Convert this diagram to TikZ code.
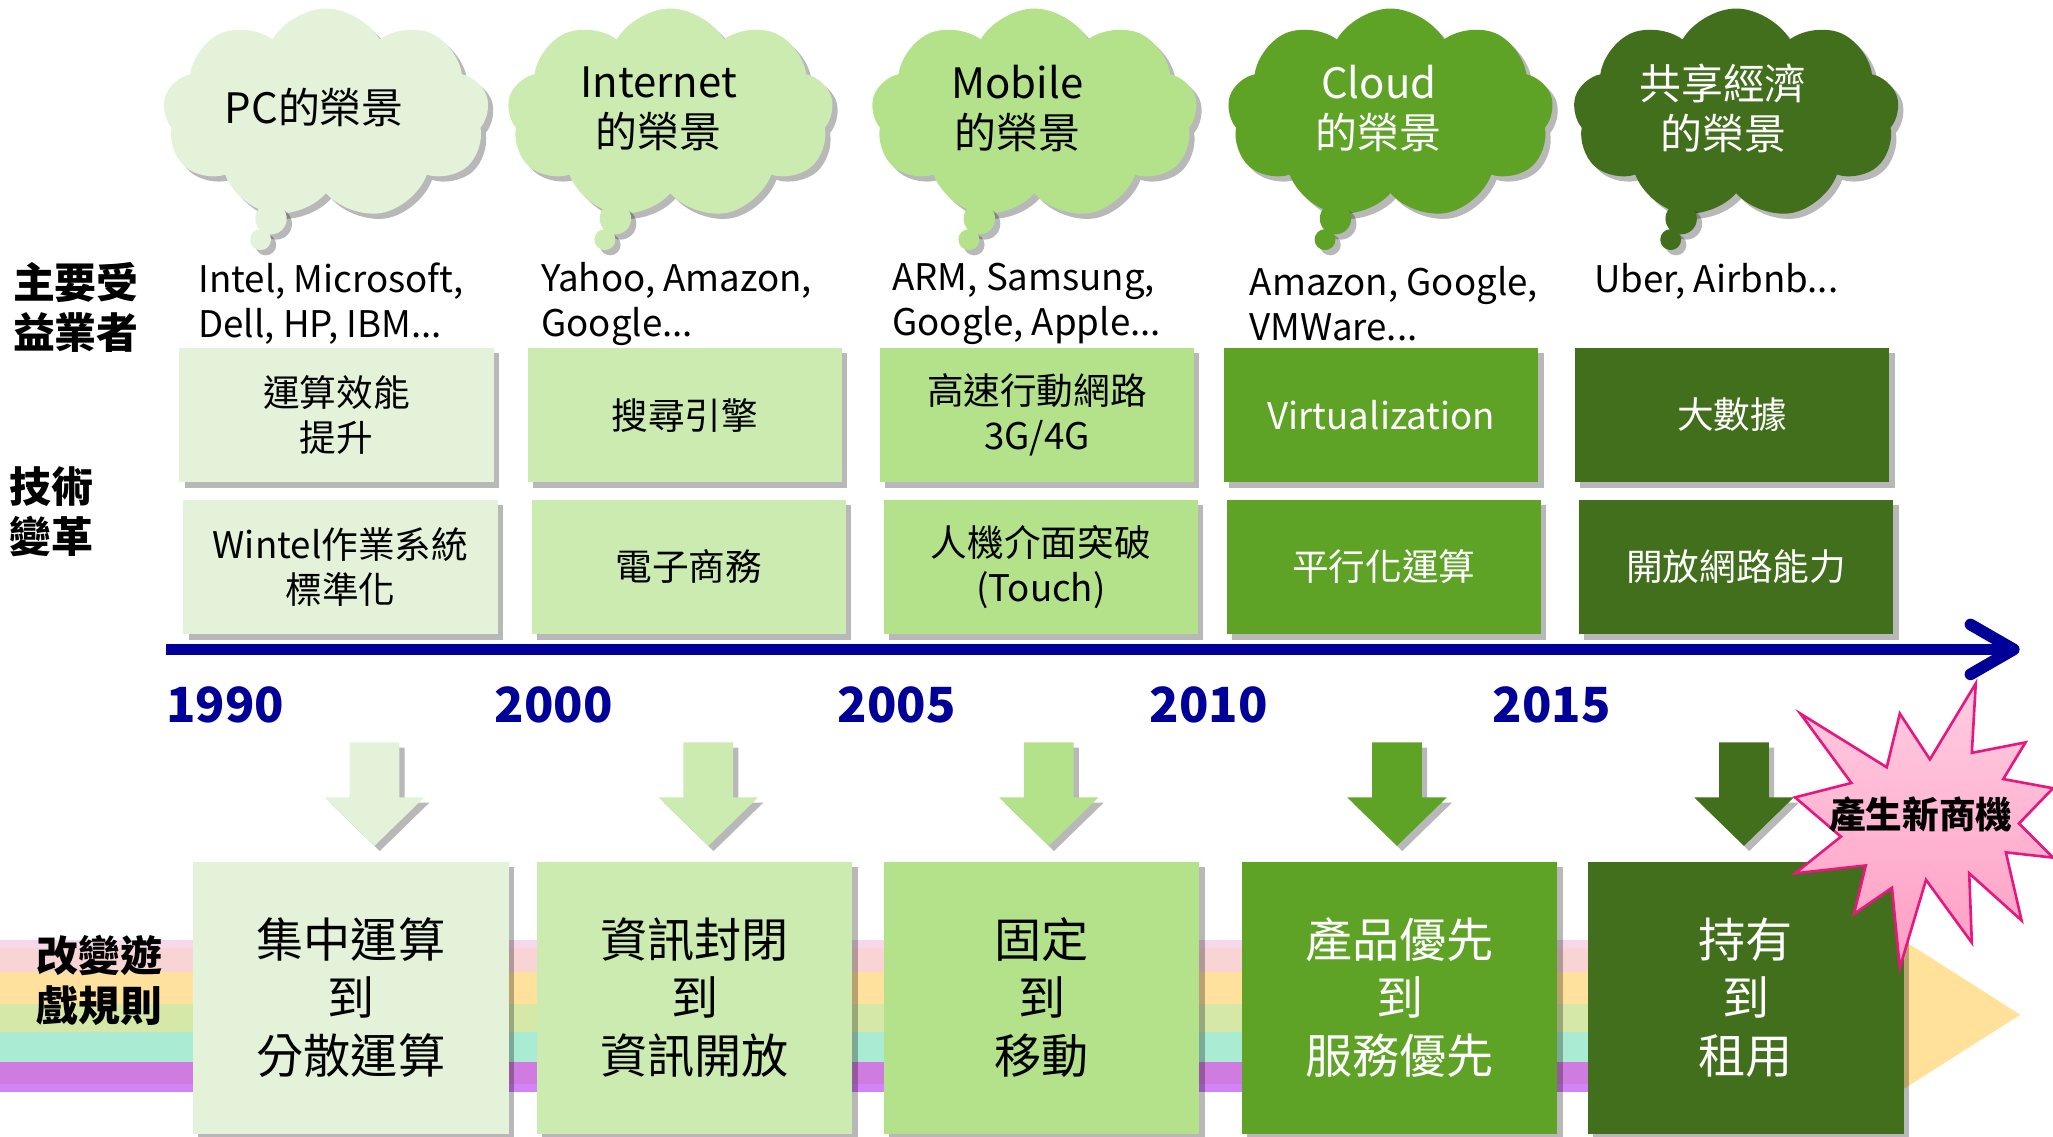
\documentclass[tikz,border=0pt]{standalone}
\usepackage{fontspec}
\setmainfont{Noto Sans CJK TC}
\usetikzlibrary{shapes.symbols,shadows}
\definecolor{gA}{HTML}{E3F2D9}
\definecolor{gB}{HTML}{CBEBB0}
\definecolor{gC}{HTML}{B3E28A}
\definecolor{gD}{HTML}{5EA226}
\definecolor{gE}{HTML}{416F1C}
\definecolor{tblue}{HTML}{000099}
\definecolor{rb1}{HTML}{F6D8EA}
\definecolor{rb2}{HTML}{F8D4D4}
\definecolor{rb3}{HTML}{FEE19C}
\definecolor{rb4}{HTML}{D6E8A8}
\definecolor{rb5}{HTML}{AAEBD3}
\definecolor{rb6}{HTML}{D07BE0}
\definecolor{rb7}{HTML}{D482F7}
\definecolor{yarrow}{HTML}{FFE199}
\definecolor{starline}{HTML}{E8177F}
\definecolor{startop}{HTML}{FFCCE0}
\definecolor{starbot}{HTML}{FF9EC4}
\begin{document}
\begin{tikzpicture}[x=1pt,y=-1pt,
  softshadow/.style={drop shadow={shadow xshift=4pt,shadow yshift=-4pt,opacity=0.28,fill=black}},
  cloudbox/.style={cloud,cloud puffs=9,cloud puff arc=120,cloud ignores aspect,
     minimum width=249pt,minimum height=161pt,inner sep=0pt,softshadow},
  tailbig/.style={circle,minimum size=24pt,inner sep=0pt},
  tailsmall/.style={circle,minimum size=16pt,inner sep=0pt},
  cloudtext/.style={align=center,font=\fontsize{32}{38}\selectfont},
  firm/.style={anchor=west,align=left,font=\fontsize{28}{34}\selectfont},
  techbox/.style={minimum width=240pt,minimum height=103pt,inner sep=0pt,align=center,
     font=\fontsize{28}{34}\selectfont,softshadow},
  rulebox/.style={minimum width=241pt,minimum height=208pt,inner sep=0pt,align=center,
     font=\fontsize{36}{44.5}\selectfont,softshadow},
  yearlbl/.style={font=\bfseries\fontsize{37}{37}\selectfont,text=tblue},
  sidelbl/.style={font=\bfseries\fontsize{32}{38}\selectfont,align=center},
  startext/.style={font=\bfseries\fontsize{28}{28}\selectfont}
]
\useasboundingbox (0,0) rectangle (1568,868);

% rainbow band
\fill[rb1] (0,718) rectangle (1450,724);
\fill[rb2] (0,724) rectangle (1450,742);
\fill[rb3] (0,742) rectangle (1450,767);
\fill[rb4] (0,767) rectangle (1450,788);
\fill[rb5] (0,788) rectangle (1450,811);
\fill[rb6] (0,811) rectangle (1450,828);
\fill[rb7] (0,828) rectangle (1450,834);
\fill[yarrow] (1400,684) -- (1543,775) -- (1400,866) -- cycle;

% clouds
\node[cloudbox,fill=gA] (cl1) at (249,87) {};
\node[cloudbox,fill=gB] (cl2) at (512,87) {};
\node[cloudbox,fill=gC] (cl3) at (790,87) {};
\node[cloudbox,fill=gD] (cl4) at (1062,87) {};
\node[cloudbox,fill=gE] (cl5) at (1326,87) {};
\foreach \i/\x/\c in {1/249/gA,2/512/gB,3/790/gC,4/1062/gD,5/1326/gE}{
  \node[tailbig,fill=\c,softshadow] (tb\i) at (\x-42,167) {};
  \node[tailsmall,fill=\c,softshadow] (ts\i) at (\x-50,183) {};
}
\node[cloudtext] (ct1) at (240,82) {PC的榮景};
\node[cloudtext] (ct2) at (503,83) {Internet\\的榮景};
\node[cloudtext] (ct3) at (777,83) {Mobile\\的榮景};
\node[cloudtext,text=white] (ct4) at (1053,83) {Cloud\\的榮景};
\node[cloudtext,text=white] (ct5) at (1316,83) {共享經濟\\的榮景};

% side labels
\node[sidelbl] (lab1) at (58,235) {主要受\\益業者};
\node[sidelbl] (lab2) at (39,391) {技術\\變革};
\node[sidelbl] (lab3) at (76,749) {改變遊\\戲規則};

% companies
\node[firm] (f1) at (148,232) {Intel, Microsoft,\\Dell, HP, IBM...};
\node[firm] (f2) at (410,232) {Yahoo, Amazon,\\Google...};
\node[firm] (f3) at (678,232) {ARM, Samsung,\\Google, Apple...};
\node[firm] (f4) at (951,232) {Amazon, Google,\\VMWare...};
\node[firm] (f5) at (1214,215) {Uber, Airbnb...};

% tech row 1
\node[techbox,fill=gA] (ta1) at (257,317) {運算效能\\提升};
\node[techbox,fill=gB] (ta2) at (523,317) {搜尋引擎};
\node[techbox,fill=gC] (ta3) at (792,317) {高速行動網路\\3G/4G};
\node[techbox,fill=gD,text=white] (ta4) at (1055,317) {Virtualization};
\node[techbox,fill=gE,text=white] (ta5) at (1323,317) {大數據};
% tech row 2
\node[techbox,fill=gA] (tb1) at (260,433) {Wintel作業系統\\標準化};
\node[techbox,fill=gB] (tb2) at (526,433) {電子商務};
\node[techbox,fill=gC] (tb3) at (795,433) {人機介面突破\\(Touch)};
\node[techbox,fill=gD,text=white] (tb4) at (1057,433) {平行化運算};
\node[techbox,fill=gE,text=white] (tb5) at (1326,433) {開放網路能力};

% timeline
\coordinate (tlstart) at (127,496);
\coordinate (tlend) at (1538,496);
\draw[tblue,line width=9pt] (tlstart) -- (tlend);
\draw[tblue,line width=9pt,line cap=round,line join=round] (1505,477) -- (tlend) -- (1505,515);

% years
\node[yearlbl] (y1) at (172,538) {1990};
\node[yearlbl] (y2) at (423,538) {2000};
\node[yearlbl] (y3) at (685,538) {2005};
\node[yearlbl] (y4) at (923,538) {2010};
\node[yearlbl] (y5) at (1185,538) {2015};

% down arrows
\foreach \x/\c in {286/gA,541/gB,801/gC,1067/gD,1332/gE}{
  \fill[\c,softshadow] (\x-19,567) -- (\x+19,567) -- (\x+19,609) -- (\x+38,609)
     -- (\x,646) -- (\x-38,609) -- (\x-19,609) -- cycle;
}

% bottom boxes
\node[rulebox,fill=gA] (r1) at (268,762) {集中運算\\到\\分散運算};
\node[rulebox,fill=gB] (r2) at (530.5,762) {資訊封閉\\到\\資訊開放};
\node[rulebox,fill=gC] (r3) at (795.5,762) {固定\\到\\移動};
\node[rulebox,fill=gD,text=white] (r4) at (1069,762) {產品優先\\到\\服務優先};
\node[rulebox,fill=gE,text=white] (r5) at (1333.5,762) {持有\\到\\租用};

% starburst
\draw[starline,line width=2pt,top color=startop,bottom color=starbot]
  (1371,609) -- (1414,598) -- (1375,545) -- (1441,586) -- (1451,545) -- (1474,580)
  -- (1509,522) -- (1506,575) -- (1547,567) -- (1530,595) -- (1568,602) -- (1542,629)
  -- (1568,655) -- (1532,651) -- (1544,703) -- (1504,667) -- (1506,720) -- (1471,672)
  -- (1451,739) -- (1445,678) -- (1416,698) -- (1425,661) -- (1371,667) -- (1406,639)
  -- cycle;
\node[startext] (st) at (1467,622) {產生新商機};
\end{tikzpicture}
\end{document}
